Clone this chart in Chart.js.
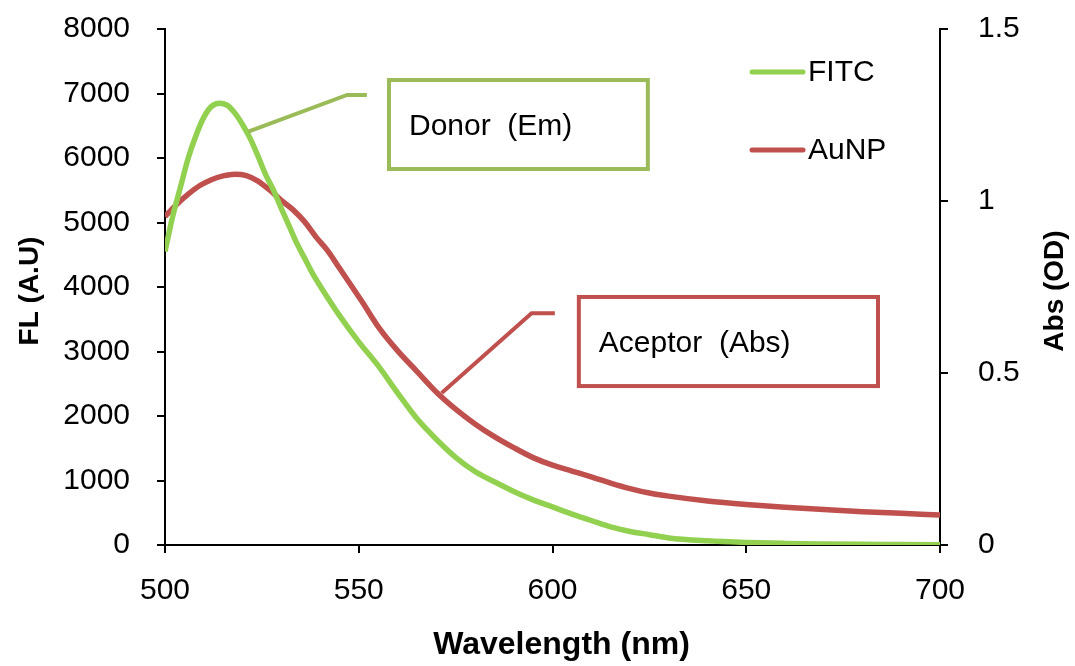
<!DOCTYPE html>
<html>
<head>
<meta charset="utf-8">
<script src="https://cdn.jsdelivr.net/npm/chart.js@4/dist/chart.umd.min.js"></script>
<style>
  html, body { margin: 0; padding: 0; background: #fff; }
  #wrap { width: 1075px; height: 666px; position: relative; }
</style>
</head>
<body>
<div id="wrap"><canvas id="myChart"></canvas></div>
<script>
// FITC emission (left axis, FL a.u.)
const fitcWl = [500, 502, 504, 506, 508, 510, 512, 514, 516, 518, 520, 522, 524, 526, 528, 530, 532, 534, 536, 538, 540,
  545, 550, 555, 560, 565, 570, 575, 580, 585, 590, 595, 600, 605, 610, 615, 620, 625, 630, 640, 650, 660, 670, 680, 690, 700]
const fitcFl = [4550, 5100, 5550, 6000, 6350, 6630, 6800, 6850, 6820, 6700, 6520, 6300, 6030, 5740, 5500, 5220, 4950, 4680, 4450, 4220, 4020,
  3560, 3150, 2780, 2360, 1960, 1640, 1360, 1140, 980, 830, 700, 590, 480, 380, 280, 210, 160, 110, 65, 40, 25, 15, 10, 8, 5]

// AuNP absorbance (right axis, OD)
const aunpWl = [500, 503, 506, 509, 512, 515, 518, 521, 524, 527, 530, 533, 536, 539, 542, 545, 548, 551, 555, 560, 565,
  570, 575, 580, 585, 590, 595, 600, 605, 610, 615, 620, 625, 630, 640, 650, 660, 670, 680, 690, 700]
const aunpOd = [0.955, 0.99, 1.02, 1.045, 1.062, 1.073, 1.078, 1.074, 1.058, 1.032, 1.002, 0.975, 0.94, 0.895, 0.855, 0.805, 0.755, 0.705, 0.635, 0.565, 0.505,
  0.445, 0.395, 0.352, 0.315, 0.283, 0.254, 0.232, 0.215, 0.198, 0.18, 0.164, 0.151, 0.142, 0.128, 0.118, 0.11, 0.103, 0.097, 0.092, 0.087]

const xTicks = [500, 550, 600, 650, 700]
const flTicks = [0, 1000, 2000, 3000, 4000, 5000, 6000, 7000, 8000]
const odTicks = [0, 0.5, 1, 1.5]

const seriesNames = ['FITC', 'AuNP']
const seriesColors = ['#92D050', '#C0504D']

// callouts, in data units (wavelength, value on its own axis)
const donorLine = [[521.5, 6408], [547, 6977], [552.1, 6977]]
const donorBox = [557.8, 7209, 624.6, 5829]
const aceptorLine = [[571.4, 0.442], [594.6, 0.674], [600.6, 0.674]]
const aceptorBox = [606.8, 0.721, 684.0, 0.462]

const FONT = '"Liberation Sans", Arial, sans-serif'

const toPts = (xs, ys) => xs.map((x, i) => ({ x: x, y: ys[i] }))

const extrasPlugin = {
  id: 'extras',
  afterDraw(chart) {
    const ctx = chart.ctx
    const xs = chart.scales.x, ys = chart.scales.y, yr = chart.scales.y1
    const area = chart.chartArea
    ctx.save()

    // callouts
    const callout = (pts, box, yScale, color, text) => {
      ctx.strokeStyle = color
      ctx.lineWidth = 4
      ctx.lineJoin = 'miter'
      ctx.beginPath()
      pts.forEach((p, i) => {
        const px = xs.getPixelForValue(p[0]), py = yScale.getPixelForValue(p[1])
        if (i == 0) ctx.moveTo(px, py); else ctx.lineTo(px, py)
      })
      ctx.stroke()
      const x1 = xs.getPixelForValue(box[0]), y1 = yScale.getPixelForValue(box[1])
      const x2 = xs.getPixelForValue(box[2]), y2 = yScale.getPixelForValue(box[3])
      ctx.lineWidth = 4
      ctx.strokeRect(x1, y1, x2 - x1, y2 - y1)
      ctx.fillStyle = '#000'
      ctx.font = '30px ' + FONT
      ctx.textBaseline = 'middle'
      ctx.textAlign = 'left'
      ctx.fillText(text, x1 + 20, (y1 + y2) / 2 + 2)
    }
    callout(donorLine, donorBox, ys, '#9BBB59', 'Donor  (Em)')
    callout(aceptorLine, aceptorBox, yr, '#C0504D', 'Aceptor  (Abs)')

    // legend
    const legY = [72, 150]
    seriesNames.forEach((name, i) => {
      ctx.strokeStyle = seriesColors[i]
      ctx.lineWidth = 5
      ctx.lineCap = 'round'
      ctx.beginPath()
      ctx.moveTo(752, legY[i])
      ctx.lineTo(803, legY[i])
      ctx.stroke()
      ctx.fillStyle = '#000'
      ctx.font = '30px ' + FONT
      ctx.textBaseline = 'middle'
      ctx.fillText(name, 808, legY[i] + 1)
    })

    // axis titles
    ctx.fillStyle = '#000'
    ctx.font = 'bold 28px ' + FONT
    ctx.textAlign = 'center'
    ctx.textBaseline = 'middle'
    const midY = (area.top + area.bottom) / 2 + 4
    ctx.save()
    ctx.translate(30, midY)
    ctx.rotate(-Math.PI / 2)
    ctx.fillText('FL (A.U)', 0, 0)
    ctx.restore()
    ctx.save()
    ctx.translate(1055, midY)
    ctx.rotate(-Math.PI / 2)
    ctx.fillText('Abs (OD)', 0, 0)
    ctx.restore()
    ctx.font = 'bold 32px ' + FONT
    ctx.fillText('Wavelength (nm)', (area.left + area.right) / 2 + 9, 645)

    ctx.restore()
  }
}

const axisGrid = { drawOnChartArea: false, drawTicks: true, tickLength: 8, color: '#000', lineWidth: 2 }
const axisBorder = { display: true, color: '#000', width: 2 }
const tickFont = { family: FONT, size: 30 }
const plain = v => String(v)

// fixed box sizes so the plot area sits where the original has it
const fixWidth = w => s => { s.width = w; s.paddingTop = 0; s.paddingBottom = 0 }
const fixHeight = h => s => { s.height = h; s.paddingLeft = 0; s.paddingRight = 0 }

const myChart = new Chart(document.getElementById('myChart'), {
  type: 'line',
  data: {
    datasets: [
      {
        label: seriesNames[0],
        data: toPts(fitcWl, fitcFl),
        yAxisID: 'y',
        borderColor: seriesColors[0],
        borderWidth: 5.5,
        pointRadius: 0,
        cubicInterpolationMode: 'monotone',
        fill: false,
      },
      {
        label: seriesNames[1],
        data: toPts(aunpWl, aunpOd),
        yAxisID: 'y1',
        borderColor: seriesColors[1],
        borderWidth: 5.5,
        pointRadius: 0,
        cubicInterpolationMode: 'monotone',
        fill: false,
      },
    ],
  },
  options: {
    responsive: true,
    maintainAspectRatio: false,
    animation: false,
    layout: { padding: { top: 29, left: 0, right: 0, bottom: 0 } },
    plugins: {
      legend: { display: false },
      tooltip: { enabled: false },
    },
    scales: {
      x: {
        type: 'linear',
        position: 'bottom',
        min: 500,
        max: 700,
        afterBuildTicks: s => { s.ticks = xTicks.map(v => ({ value: v })) },
        ticks: { font: tickFont, color: '#000', padding: 20, callback: plain },
        grid: axisGrid,
        border: axisBorder,
        afterFit: fixHeight(121),
      },
      y: {
        position: 'left',
        min: 0,
        max: 8000,
        afterBuildTicks: s => { s.ticks = flTicks.map(v => ({ value: v })) },
        ticks: { font: tickFont, color: '#000', padding: 27, callback: plain },
        grid: axisGrid,
        border: axisBorder,
        afterFit: fixWidth(165),
      },
      y1: {
        position: 'right',
        min: 0,
        max: 1.5,
        afterBuildTicks: s => { s.ticks = odTicks.map(v => ({ value: v })) },
        ticks: { font: tickFont, color: '#000', padding: 30, callback: plain },
        grid: axisGrid,
        border: axisBorder,
        afterFit: fixWidth(135),
      },
    },
  },
  plugins: [extrasPlugin],
})
</script>
</body>
</html>
